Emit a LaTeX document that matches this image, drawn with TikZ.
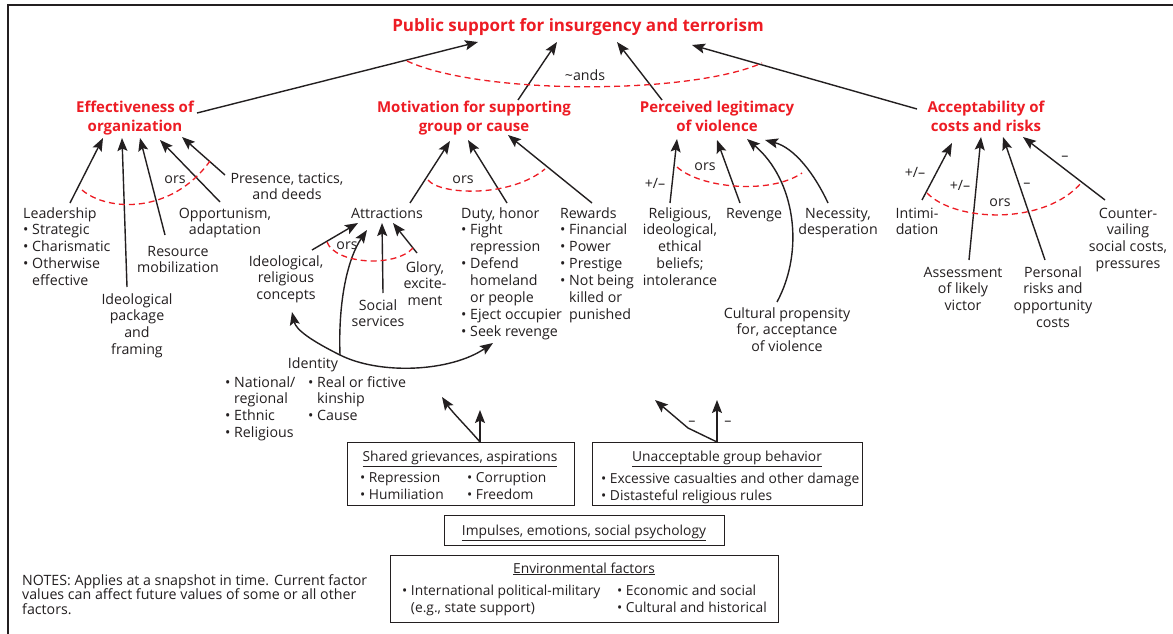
\documentclass[tikz,border=0pt]{standalone}
\usepackage{fontspec}
\setmainfont{Open Sans}
\usetikzlibrary{arrows.meta}
\definecolor{redc}{RGB}{237,28,36}
\definecolor{txt}{RGB}{35,31,32}
\newcommand{\bodyf}{\fontsize{14.2}{16.9}\selectfont}
\newcommand{\notef}{\fontsize{14.2}{14.8}\selectfont}
\newcommand{\boxf}{\fontsize{13.8}{16.5}\selectfont}
\newcommand{\headf}{\bfseries\fontsize{15}{18.5}\selectfont}
\newcommand{\titlef}{\bfseries\fontsize{17}{20}\selectfont}
\newcommand{\bu}{\hphantom{• }}
\begin{document}
\begin{tikzpicture}[x=1pt,y=-1pt,
  lbl/.style={inner sep=0pt, font=\bodyf, text=txt, align=center, anchor=base},
  lbll/.style={lbl, align=left, anchor=base west},
  blbl/.style={inner sep=0pt, font=\boxf, text=txt, align=center, anchor=base},
  blbll/.style={blbl, align=left, anchor=base west},
  head/.style={inner sep=0pt, font=\headf, text=redc, align=center, anchor=base},
  arr/.style={draw=txt, line width=1.4pt, -{Stealth[length=13pt,width=10pt,inset=2.5pt]}},
  ordash/.style={draw=redc, line width=1.3pt, dash pattern=on 6pt off 4pt},
  boxn/.style={draw=txt, line width=1pt, inner sep=0pt},
  lab/.style={inner sep=0pt, font=\bodyf, text=txt}]
\useasboundingbox (0,0) rectangle (1173,634);
\fill[white] (0,0) rectangle (1173,634);
\draw[line width=2pt, txt] (8,634) -- (8,5) -- (1173,5);

% ---------- headings (anchor = baseline of last line) ----------
\node[head, font=\titlef] (title) at (578,32) {Public support for insurgency and terrorism};
\node[head] (eff) at (135,131) {Effectiveness of\\organization};
\node[head] (mot) at (474,131) {Motivation for supporting\\group or cause};
\node[head] (per) at (717,131) {Perceived legitimacy\\of violence};
\node[head] (acc) at (986,131) {Acceptability of\\costs and risks};

% top arrows
\coordinate (effT) at (197,113); \coordinate (effH) at (478,42);
\coordinate (motT) at (518,100); \coordinate (motH) at (557,42);
\coordinate (perT) at (662,100); \coordinate (perH) at (617,42);
\coordinate (accT) at (917,109); \coordinate (accH) at (692,45);
\draw[arr] (effT) -- (effH);
\draw[arr] (motT) -- (motH);
\draw[arr] (perT) -- (perH);
\draw[arr] (accT) -- (accH);
\coordinate (andsA) at (407,61); \coordinate (andsB) at (762,63);
\draw[ordash] (andsA) .. controls (480,95) and (690,95) .. (andsB);
\node[lab] (ands) at (585,75) {\textasciitilde ands};

% ---------- effectiveness ----------
\node[lbll] (lead) at (23,285.6) {Leadership\\• Strategic\\• Charismatic\\• Otherwise\\\bu effective};
\node[lbl] (ideopack) at (137,354.7) {Ideological\\package\\and\\framing};
\node[lbl] (resmob) at (178,272.9) {Resource\\mobilization};
\node[lbl] (opport) at (225,234.9) {Opportunism,\\adaptation};
\node[lbl] (presence) at (287,199.9) {Presence, tactics,\\and deeds};
\coordinate (e1T) at (70,203);  \coordinate (e1H) at (103,138);
\coordinate (e2T) at (127,287); \coordinate (e2H) at (122,138);
\coordinate (e3T) at (165,235); \coordinate (e3H) at (140,138);
\coordinate (e4T) at (220,202); \coordinate (e4H) at (160,140);
\coordinate (e5T) at (225,175); \coordinate (e5H) at (182,137);
\draw[arr] (e1T) -- (e1H);
\draw[arr] (e2T) -- (e2H);
\draw[arr] (e3T) -- (e3H);
\draw[arr] (e4T) -- (e4H);
\draw[arr] (e5T) -- (e5H);
\coordinate (eA) at (82,190); \coordinate (eB) at (210,161);
\draw[ordash] (eA) .. controls (108,212) and (172,214) .. (eB);
\node[lab] (eors) at (175,180) {ors};

% ---------- motivation ----------
\node[lbl] (attr) at (387,218) {Attractions};
\node[lbll] (duty) at (461,336.3) {Duty, honor\\• Fight\\\bu repression\\• Defend\\\bu homeland\\\bu or people\\• Eject occupier\\• Seek revenge};
\node[lbll] (rew) at (560,319.4) {Rewards\\• Financial\\• Power\\• Prestige\\• Not being\\\bu killed or\\\bu punished};
\coordinate (m1T) at (410,203); \coordinate (m1H) at (450,141);
\coordinate (m2T) at (507,203); \coordinate (m2H) at (468,140);
\coordinate (m3T) at (592,203); \coordinate (m3H) at (508,135);
\draw[arr] (m1T) -- (m1H);
\draw[arr] (m2T) -- (m2H);
\draw[arr] (m3T) -- (m3H);
\coordinate (mA) at (428,180); \coordinate (mB) at (545,169);
\draw[ordash] (mA) .. controls (440,195) and (510,198) .. (mB);
\node[lab] (mors) at (463,180) {ors};

% attractions children
\node[lbl] (ideocon) at (286,299.8) {Ideological,\\religious\\concepts};
\node[lbl] (social) at (378,326.9) {Social\\services};
\node[lbl] (glory) at (425,305.8) {Glory,\\excite-\\ment};
\node[lbl] (ident) at (313,368) {Identity};
\node[lbll] (identL) at (225,437.7) {• National/\\\bu regional\\• Ethnic\\• Religious};
\node[lbll] (identR) at (308,420.8) {• Real or fictive\\\bu kinship\\• Cause};
\coordinate (a1T) at (312,250); \coordinate (a1H) at (358,223);
\coordinate (idP) at (340,355); \coordinate (a2H) at (367,230);
\coordinate (a3T) at (383,293); \coordinate (a3H) at (382,223);
\coordinate (a4T) at (417,253); \coordinate (a4H) at (393,223);
\coordinate (idL) at (292,312); \coordinate (idR) at (493,343);
\draw[arr] (a1T) -- (a1H);
\draw[arr] (idP) .. controls (338,300) and (348,258) .. (a2H);
\draw[arr] (a3T) -- (a3H);
\draw[arr] (a4T) -- (a4H);
\draw[arr] (idP) .. controls (312,341) and (296,330) .. (idL);
\draw[arr] (idP) .. controls (380,375) and (450,372) .. (idR);
\coordinate (aA) at (327,242); \coordinate (aB) at (413,248);
\draw[ordash] (aA) .. controls (335,264) and (395,268) .. (aB);
\node[lab] (aors) at (347,246) {ors};

% ---------- legitimacy ----------
\node[lbl] (relig) at (680,285.6) {Religious,\\ideological,\\ethical\\beliefs;\\intolerance};
\node[lbl] (reven) at (754,218) {Revenge};
\node[lbl] (neces) at (838,234.9) {Necessity,\\desperation};
\node[lbl] (cult) at (787,351.8) {Cultural propensity\\for, acceptance\\of violence};
\coordinate (p1T) at (670,203); \coordinate (p1H) at (677,139);
\coordinate (p2T) at (740,203); \coordinate (p2H) at (717,140);
\coordinate (p3T) at (777,302); \coordinate (p3H) at (747,139);
\coordinate (p4T) at (828,203); \coordinate (p4H) at (765,140);
\draw[arr] (p1T) -- (p1H);
\draw[arr] (p2T) -- (p2H);
\draw[arr] (p3T) .. controls (805,250) and (795,180) .. (p3H);
\draw[arr] (p4T) .. controls (815,175) and (795,148) .. (p4H);
\coordinate (pA) at (677,167); \coordinate (pB) at (802,173);
\draw[ordash] (pA) .. controls (700,188) and (770,195) .. (pB);
\node[lab] (pors) at (705,167) {ors};
\node[lab] (ppm) at (655,183) {+/–};

% ---------- acceptability ----------
\node[lbl] (intim) at (917,234.9) {Intimi-\\dation};
\node[lbl] (assess) at (963,310.8) {Assessment\\of likely\\victor};
\node[lbl] (persr) at (1053,327.7) {Personal\\risks and\\opportunity\\costs};
\node[lbl] (counter) at (1128,268.7) {Counter-\\vailing\\social costs,\\pressures};
\coordinate (c1T) at (922,200);  \coordinate (c1H) at (952,143);
\coordinate (c2T) at (969,260);  \coordinate (c2H) at (981,137);
\coordinate (c3T) at (1045,260); \coordinate (c3H) at (1003,137);
\coordinate (c4T) at (1105,200); \coordinate (c4H) at (1023,137);
\draw[arr] (c1T) -- (c1H);
\draw[arr] (c2T) -- (c2H);
\draw[arr] (c3T) -- (c3H);
\draw[arr] (c4T) -- (c4H);
\coordinate (cA) at (927,193); \coordinate (cB) at (1082,182);
\draw[ordash] (cA) .. controls (955,222) and (1045,226) .. (cB);
\node[lab] (cors) at (1000,203) {ors};
\node[lab] (cpm1) at (915,172) {+/–};
\node[lab] (cpm2) at (960,185) {+/–};
\node[lab] (cm1) at (1027,185) {–};
\node[lab] (cm2) at (1065,158) {–};

% ---------- boxes ----------
\node[boxn, minimum width=227pt, minimum height=63pt] (shared) at (460.5,473.5) {};
\node[blbl] (sharedT) at (460,461) {\underline{Shared grievances, aspirations}};
\node[blbll] (sharedL) at (360,499) {• Repression\\• Humiliation};
\node[blbll] (sharedR) at (467,499) {• Corruption\\• Freedom};
\coordinate (sgS) at (480,442);
\coordinate (sgU) at (480,410); \coordinate (sgL) at (442,397);
\draw[arr] (sgS) -- (sgU);
\draw[arr] (sgS) .. controls (468,428) and (452,412) .. (sgL);

\node[boxn, minimum width=270pt, minimum height=63pt] (unacc) at (727,473.5) {};
\node[blbl] (unaccT) at (727,461) {\underline{Unacceptable group behavior}};
\node[blbll] (unaccL) at (601,500) {• Excessive casualties and other damage\\• Distasteful religious rules};
\coordinate (ugS) at (717,442);
\coordinate (ugU) at (717,400); \coordinate (ugK) at (688,428); \coordinate (ugL) at (655,400);
\draw[arr] (ugS) -- (ugU);
\draw[arr] (ugS) -- (ugK) -- (ugL);
\node[lab] (um1) at (692,423) {–};
\node[lab] (um2) at (728,423) {–};

\node[boxn, minimum width=280pt, minimum height=30pt] (impul) at (584,530) {};
\node[blbl] (impulT) at (584,535) {\underline{Impulses, emotions, social psychology}};

\node[boxn, minimum width=388pt, minimum height=67pt] (envir) at (584,588.5) {};
\node[blbl] (envirT) at (584,573) {\underline{Environmental factors}};
\node[blbll] (envirL) at (402,612) {• International political-military\\\bu (e.g., state support)};
\node[blbll] (envirR) at (617,612) {• Economic and social\\• Cultural and historical};

\node[lbll, font=\notef] (notes) at (22,614.6) {NOTES: Applies at a snapshot in time. Current factor\\values can affect future values of some or all other\\factors.};
\end{tikzpicture}
\end{document}
